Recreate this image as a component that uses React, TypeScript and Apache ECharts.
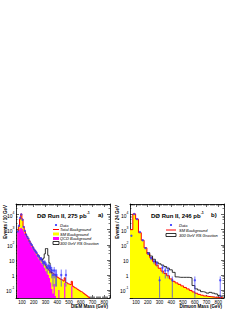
import React, { useEffect, useRef } from "react";
import * as echarts from "echarts";

// ---------- Panel a) DIEM, 10 GeV bins (lower bin edges in GeV) ----------
const diemBinEdges = [
  60, 70, 80, 90, 100, 110, 120, 130, 140, 150, 160, 170, 180, 190, 200, 210,
  220, 230, 240, 250, 260, 270, 280, 290, 300, 310, 320, 330, 340, 350, 360,
  370, 380, 390, 400, 410, 420, 430, 440, 450, 460, 470, 480, 490, 500, 510,
  520, 530, 540, 550, 560, 570, 580, 590, 600, 610, 620, 630, 640, 650, 660, 670,
];
const diemTotalBackground = [
  800, 1600, 5000, 11000, 5000, 1600, 800, 500, 355, 250, 178, 126, 89, 71, 50, 40,
  28, 22, 18, 14, 11, 8.9, 7.1, 5.6, 4.0, 3.2, 2.5, 2.0, 1.6, 1.4, 1.26,
  1.12, 1.0, 0.8, 0.71, 0.63, 0.56, 0.5, 0.45, 0.4, 0.65, 0.32, 0.3, 0.26, 0.24, 0.22,
  0.38, 0.18, 0.16, 0.14, 0.126, 0.112, 0.1, 0.089, 0.079, 0.071, 0.063, 0.055, 0.048, 0.042, 0.036, 0.031,
];
const diemQcdBackground = [
  700, 1000, 1260, 1400, 1120, 800, 560, 400, 280, 200, 140, 100, 71, 52, 38, 28,
  20, 15, 11, 9, 6.3, 5, 3.5, 2.8, 1.8, 1.26, 1.0, 0.63, 0.32, 0.12, 0.06,
  0.25, 0.04, 0, 0, 0.1, 0, 0, 0, 0, 0.3, 0, 0, 0, 0, 0,
  0.18, 0, 0, 0, 0, 0, 0, 0, 0, 0, 0, 0, 0, 0, 0, 0,
];
const diemSignalEdges = [260, 270, 280, 290, 300, 310, 320, 330, 340, 350];
const diemSignalPlusBackground = [11, 10, 13, 25, 56, 56, 20, 6.3, 2.5, 1.4];
const diemDataMass = [
  65, 75, 85, 95, 105, 115, 125, 135, 145, 155, 165, 175, 185, 195, 205, 215,
  225, 235, 245, 255, 265, 275, 285, 295, 305, 315, 325, 335, 345,
];
const diemDataEvents = [
  750, 1800, 6000, 10000, 4500, 1500, 850, 480, 340, 260, 170, 120, 95, 65, 48, 37,
  30, 20, 17, 12, 12, 8, 6, 7, 5, 3, 4, 3, 3,
];
const diemSparseMass = [355, 365, 375, 385, 395, 435, 475];
const diemSparseEvents = [2, 1, 2, 1, 1, 1, 1];
const diemSparseLow = [0.6, 0.17, 0.6, 0.17, 0.17, 0.17, 0.17];
const diemSparseHigh = [3.4, 2.3, 3.4, 2.3, 2.3, 2.3, 2.3];

// ---------- Panel b) Dimuon, 24 GeV bins ----------
const muBinEdges = [
  50, 74, 98, 122, 146, 170, 194, 218, 242, 266, 290, 314, 338, 362, 386, 410,
  434, 458, 482, 506, 530, 554, 578, 602, 626, 650, 674, 698, 722, 746, 770, 794, 818,
];
const muSmBackground = [
  1000, 11000, 5000, 630, 200, 63, 25, 14, 7.9, 4.5, 2.8, 1.8, 1.26, 0.89, 0.55, 0.38,
  0.3, 0.24, 0.19, 0.15, 0.12, 0.095, 0.076, 0.062, 0.052, 0.046, 0.041, 0.038, 0.036, 0.034, 0.033, 0.032, 0.031,
];
const muSignalEdges = [
  194, 218, 242, 266, 290, 314, 338, 362, 386, 410, 434, 458, 482, 506, 530, 554,
  578, 602, 626, 650, 674, 698, 722, 746, 770, 794, 818,
];
const muSignalPlusBackground = [
  30, 18, 11, 7, 5.5, 4.5, 3.6, 2.8, 2.2, 1.5, 0.75, 0.7, 0.7, 0.7, 0.7, 0.65,
  0.2, 0.12, 0.1, 0.079, 0.071, 0.063, 0.071, 0.063, 0.056, 0.045, 0.04,
];
const muDataMass = [62, 86, 110, 134, 158, 182, 206, 230, 254, 278, 326, 350, 374];
const muDataEvents = [400, 11000, 5000, 700, 200, 60, 26, 13, 8, 6, 3, 2, 2];
const muSparseMass = [302, 410, 602, 818];
const muSparseEvents = [0.45, 0.45, 0.45, 0.45];
const muSparseLow = [0.031, 0.031, 0.031, 0.031];
const muSparseHigh = [0.8, 0.8, 0.8, 0.8];

// ---------- Tick labels ----------
const massTickLabels = ["100", "200", "300", "400", "500", "600", "700", "800"];

const YELLOW = "#ffff00";
const MAGENTA = "#ff00ff";
const RED = "#ff0000";
const BLUE = "#3a3aff";
const FONT = "'Liberation Sans', Arial, Helvetica, sans-serif";
const Y_MIN = 0.03;
const Y_MAX = 50000;

function histPoints(edges: number[], vals: number[], width: number) {
  const pts = edges.map((e, i) => [e, vals[i] > 0 ? vals[i] : 1e-4]);
  const last = edges.length - 1;
  pts.push([edges[last] + width, vals[last] > 0 ? vals[last] : 1e-4]);
  return pts;
}

function xAxes(g: number) {
  const base = {
    type: "value",
    gridIndex: g,
    min: 50,
    max: 850,
    splitNumber: 8,
    splitLine: { show: false },
    axisLine: { show: true, onZero: false, lineStyle: { color: "#000", width: 0.8 } },
    axisTick: { show: true, inside: true, length: 3, lineStyle: { color: "#000", width: 0.6 } },
    minorTick: { show: true, splitNumber: 10, length: 1.5, lineStyle: { color: "#000", width: 0.5 } },
  };
  return [
    {
      ...base,
      position: "bottom",
      axisLabel: {
        show: true,
        fontSize: 4.5,
        fontFamily: FONT,
        color: "#000",
        margin: 1.5,
        showMinLabel: false,
        showMaxLabel: false,
        formatter: (v: number) => {
          const s = String(Math.round(v));
          return massTickLabels.includes(s) ? s : "";
        },
      },
    },
    { ...base, position: "top", axisLabel: { show: false } },
  ];
}

function yAxes(g: number) {
  const base = {
    type: "log",
    logBase: 10,
    gridIndex: g,
    min: Y_MIN,
    max: Y_MAX,
    splitLine: { show: false },
    axisLine: { show: true, onZero: false, lineStyle: { color: "#000", width: 0.8 } },
    axisTick: { show: true, inside: true, length: 3, lineStyle: { color: "#000", width: 0.6 } },
    minorTick: { show: true, splitNumber: 5, length: 1.5, lineStyle: { color: "#000", width: 0.5 } },
  };
  return [
    {
      ...base,
      position: "left",
      axisLabel: {
        show: true,
        margin: 1.5,
        color: "#000",
        showMinLabel: false,
        showMaxLabel: false,
        formatter: (v: number) => {
          const e = Math.log10(v);
          const r = Math.round(e);
          if (Math.abs(e - r) > 0.01) return "";
          if (r === 0) return "{b|1}";
          if (r === 1) return "{b|10}";
          return "{b|10}{s|" + r + "}";
        },
        rich: {
          b: { fontSize: 5, fontFamily: FONT, color: "#000", lineHeight: 7, verticalAlign: "bottom" },
          s: { fontSize: 3.4, fontFamily: FONT, color: "#000", lineHeight: 7, verticalAlign: "top" },
        },
      },
    },
    { ...base, position: "right", axisLabel: { show: false } },
  ];
}

function areaSeries(g: number, pts: number[][], fill: string, line: string | null, z: number) {
  return {
    type: "line",
    xAxisIndex: 2 * g,
    yAxisIndex: 2 * g,
    data: pts,
    step: "end",
    symbol: "none",
    clip: true,
    silent: true,
    z,
    lineStyle: line ? { color: line, width: 1 } : { width: 0, opacity: 0 },
    areaStyle: { color: fill, opacity: 1, origin: "start" },
  };
}

function lineSeries(g: number, pts: number[][], color: string, width: number, z: number) {
  return {
    type: "line",
    xAxisIndex: 2 * g,
    yAxisIndex: 2 * g,
    data: pts,
    step: "end",
    symbol: "none",
    clip: true,
    silent: true,
    z,
    lineStyle: { color, width },
  };
}

function errorSeries(g: number, mass: number[], lo: number[], hi: number[]) {
  return {
    type: "custom",
    xAxisIndex: 2 * g,
    yAxisIndex: 2 * g,
    data: mass.map((m, i) => [m, Math.max(lo[i], 0.031), hi[i]]),
    clip: true,
    silent: true,
    z: 6,
    renderItem: (_p: any, api: any) => {
      const a = api.coord([api.value(0), api.value(1)]);
      const b = api.coord([api.value(0), api.value(2)]);
      return {
        type: "line",
        shape: { x1: a[0], y1: a[1], x2: b[0], y2: b[1] },
        style: { stroke: BLUE, lineWidth: 0.7 },
      };
    },
  };
}

function dataSeries(g: number, mass: number[], ev: number[]) {
  return {
    type: "scatter",
    xAxisIndex: 2 * g,
    yAxisIndex: 2 * g,
    data: mass.map((m, i) => [m, ev[i]]),
    symbol: "circle",
    symbolSize: 2.4,
    itemStyle: { color: BLUE },
    clip: true,
    silent: true,
    z: 7,
  };
}

function sup(main: string, s: string, size: number) {
  return {
    text: "{m|" + main + "}{s|" + s + "}",
    rich: {
      m: { fontSize: size, fontWeight: "bold", fontFamily: FONT, fill: "#000", lineHeight: size + 2, verticalAlign: "bottom" },
      s: { fontSize: size * 0.6, fontWeight: "bold", fontFamily: FONT, fill: "#000", lineHeight: size + 2, verticalAlign: "top" },
    },
  };
}

export default function App() {
  const ref = useRef<HTMLDivElement>(null);
  useEffect(() => {
    if (!ref.current) return;
    const chart = echarts.init(ref.current, undefined, { renderer: "svg" });

    const diemErrLo = diemDataEvents.map((n) => n - Math.sqrt(n));
    const diemErrHi = diemDataEvents.map((n) => n + Math.sqrt(n));
    const muErrLo = muDataEvents.map((n) => n - Math.sqrt(n));
    const muErrHi = muDataEvents.map((n) => n + Math.sqrt(n));

    const legendText = (x: number, y: number, t: string) => ({
      type: "text",
      x,
      y,
      style: { text: t, fontSize: 4, fontStyle: "italic", fontFamily: FONT, fill: "#000", align: "left", verticalAlign: "middle" },
    });

    const option: any = {
      animation: false,
      backgroundColor: "#fff",
      grid: [
        { left: 16, top: 204, width: 94, height: 94 },
        { left: 130, top: 204, width: 94, height: 94 },
      ],
      xAxis: [...xAxes(0), ...xAxes(1)],
      yAxis: [...yAxes(0), ...yAxes(1)],
      series: [
        // panel a
        areaSeries(0, histPoints(diemBinEdges, diemTotalBackground, 10), YELLOW, null, 1),
        areaSeries(0, histPoints(diemBinEdges, diemQcdBackground, 10), MAGENTA, null, 2),
        lineSeries(0, histPoints(diemBinEdges, diemTotalBackground, 10), RED, 1, 3),
        lineSeries(0, histPoints(diemSignalEdges, diemSignalPlusBackground, 10), "#000", 0.8, 4),
        errorSeries(0, diemDataMass, diemErrLo, diemErrHi),
        errorSeries(0, diemSparseMass, diemSparseLow, diemSparseHigh),
        dataSeries(0, diemDataMass, diemDataEvents),
        dataSeries(0, diemSparseMass, diemSparseEvents),
        // panel b
        areaSeries(1, histPoints(muBinEdges, muSmBackground, 24), YELLOW, RED, 2),
        lineSeries(1, histPoints(muSignalEdges, muSignalPlusBackground, 24), "#000", 0.8, 4),
        errorSeries(1, muDataMass, muErrLo, muErrHi),
        errorSeries(1, muSparseMass, muSparseLow, muSparseHigh),
        dataSeries(1, muDataMass, muDataEvents),
        dataSeries(1, muSparseMass, muSparseEvents),
      ],
      graphic: [
        // axis titles
        {
          type: "text", x: 5, y: 205, rotation: Math.PI / 2,
          style: { text: "Events / 10 GeV", fontSize: 4.5, fontWeight: "bold", fontFamily: FONT, fill: "#000", align: "right", verticalAlign: "middle" },
        },
        {
          type: "text", x: 117, y: 205, rotation: Math.PI / 2,
          style: { text: "Events / 24 GeV", fontSize: 4.5, fontWeight: "bold", fontFamily: FONT, fill: "#000", align: "right", verticalAlign: "middle" },
        },
        {
          type: "text", x: 108, y: 306,
          style: { text: "DIEM Mass (GeV)", fontSize: 4.5, fontWeight: "bold", fontFamily: FONT, fill: "#000", align: "right", verticalAlign: "middle" },
        },
        {
          type: "text", x: 222, y: 306,
          style: { text: "Dimuon Mass (GeV)", fontSize: 4.5, fontWeight: "bold", fontFamily: FONT, fill: "#000", align: "right", verticalAlign: "middle" },
        },
        // panel titles
        { type: "text", x: 37, y: 215, style: { ...sup("DØ Run II, 275 pb", "-1", 6), align: "left", verticalAlign: "middle" } },
        { type: "text", x: 98, y: 215, style: { text: "a)", fontSize: 6, fontWeight: "bold", fontFamily: FONT, fill: "#000", align: "left", verticalAlign: "middle" } },
        { type: "text", x: 151, y: 215, style: { ...sup("DØ Run II, 246 pb", "-1", 6), align: "left", verticalAlign: "middle" } },
        { type: "text", x: 211, y: 215, style: { text: "b)", fontSize: 6, fontWeight: "bold", fontFamily: FONT, fill: "#000", align: "left", verticalAlign: "middle" } },
        // legend a
        { type: "circle", shape: { cx: 56, cy: 225, r: 1.1 }, style: { fill: BLUE } },
        legendText(60, 225, "Data"),
        { type: "line", shape: { x1: 53, y1: 229.5, x2: 59, y2: 229.5 }, style: { stroke: RED, lineWidth: 1 } },
        legendText(60, 229.5, "Total Background"),
        { type: "rect", shape: { x: 53, y: 232.5, width: 6, height: 3 }, style: { fill: YELLOW } },
        legendText(60, 234, "SM Background"),
        { type: "rect", shape: { x: 53, y: 237, width: 6, height: 3 }, style: { fill: MAGENTA } },
        legendText(60, 238.5, "QCD Background"),
        { type: "rect", shape: { x: 53, y: 241.5, width: 6, height: 3 }, style: { fill: "#fff", stroke: "#000", lineWidth: 0.8 } },
        legendText(60, 243, "300 GeV RS Graviton"),
        // legend b
        { type: "circle", shape: { cx: 171, cy: 225, r: 1.1 }, style: { fill: BLUE } },
        legendText(179, 225, "Data"),
        { type: "line", shape: { x1: 166, y1: 230, x2: 176, y2: 230 }, style: { stroke: RED, lineWidth: 1 } },
        legendText(179, 230, "SM Background"),
        { type: "rect", shape: { x: 166, y: 233.5, width: 10, height: 3 }, style: { fill: "#fff", stroke: "#000", lineWidth: 0.8 } },
        legendText(179, 235, "300 GeV RS Graviton"),
      ],
    };
    chart.setOption(option);
    return () => chart.dispose();
  }, []);
  return (
    <div
      ref={ref}
      style={{ position: "fixed", left: 0, top: 0, width: 246, height: 319, background: "#fff" }}
    />
  );
}
